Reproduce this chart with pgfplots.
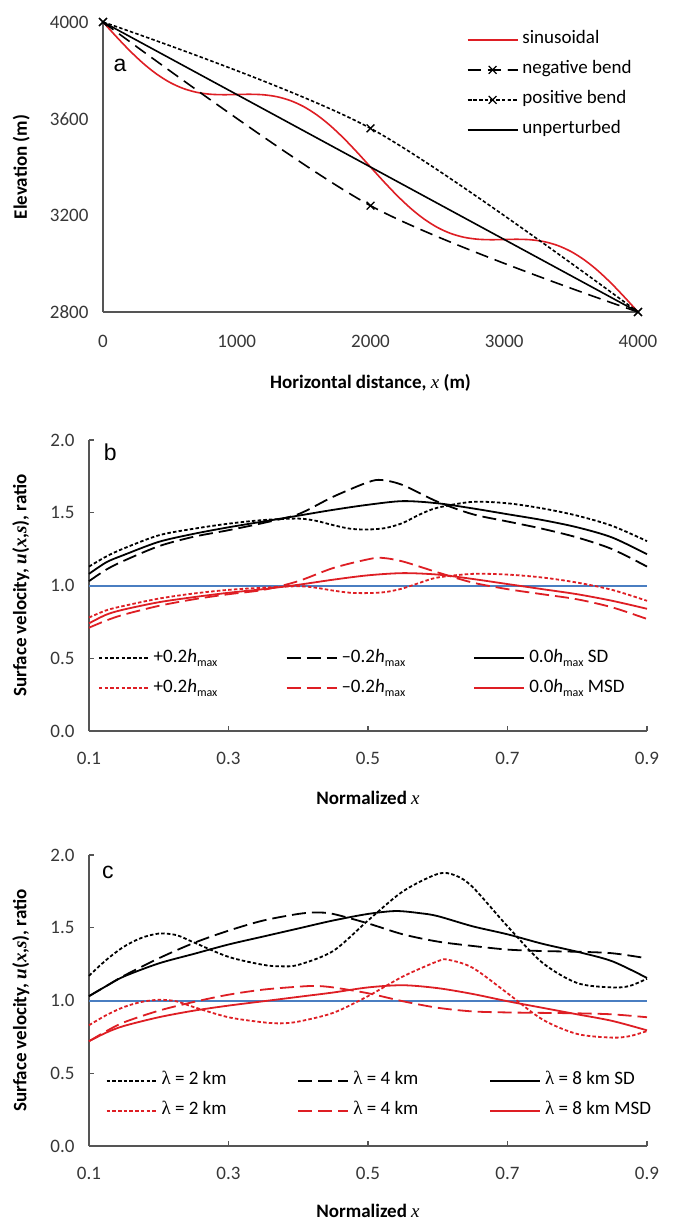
\documentclass[border=0pt]{standalone}
\usepackage{pgfplots}
\pgfplotsset{compat=1.18}
\usepackage{fontspec}
\setmainfont{Carlito}
\newfontfamily\tms{Liberation Serif}
\newfontfamily\arial{Liberation Sans}
\definecolor{myred}{RGB}{222,30,36}
\definecolor{myblue}{RGB}{74,126,193}
\definecolor{axgray}{RGB}{85,85,85}
\definecolor{tkgray}{RGB}{55,55,55}
\newcommand{\fs}{\fontsize{19}{23}\selectfont}
\newcommand{\hmax}{\textit{h}\raisebox{-4.5pt}{\fontsize{12}{13}\selectfont max}}
\newcommand{\lam}{{\tms λ}}
\pgfplotsset{
  common/.style={
    scale only axis, clip=false,
    axis x line*=bottom, axis y line*=left,
    axis line style={-, draw=axgray, line width=1.3pt},
    ticklabel style={font=\fs, text=tkgray},
    /pgf/number format/assume math mode=true,
    label style={font=\fs},
    legend style={draw=none, fill=none, inner sep=0pt, outer sep=0pt, font=\fs,
      nodes={text height=14pt, text depth=6pt, inner ysep=5pt, inner xsep=4pt}},
    legend cell align=left,
  },
  velo/.style={common,
    width=558pt, height=291pt,
    xmin=0.1, xmax=0.9, ymin=0, ymax=2,
    xtick={0.1,0.3,0.5,0.7,0.9}, ytick={0,0.5,1,1.5,2},
    /pgf/number format/fixed, /pgf/number format/fixed zerofill, /pgf/number format/precision=1,
    tick align=inside, major tick length=5pt, tick style={axgray, line width=1.3pt},
    xticklabel style={yshift=-18pt}, yticklabel style={xshift=-11pt},
    xlabel={\bfseries Normalized {\tms\mdseries\itshape x}},
    ylabel={\bfseries Surface velocity, {\tms\itshape u}({\tms\itshape x},{\tms\itshape s}), ratio},
    ylabel style={at={(axis description cs:-0.122,0.5)}, anchor=center},
    legend columns=3,
    legend image code/.code={\draw[##1] (0pt,0pt) -- (50pt,0pt);},
  },
  aleg/.style={legend image code/.code={\draw[mark repeat=2, mark phase=2, ##1] plot coordinates {(0pt,0pt) (25pt,0pt) (50pt,0pt)};}},
  kdot/.style={black, line width=1.8pt, dash pattern=on 3.5pt off 2.2pt, smooth},
  kdash/.style={black, line width=1.8pt, dash pattern=on 14pt off 6pt, smooth},
  ksol/.style={black, line width=1.8pt, smooth},
  rdot/.style={myred, line width=1.8pt, dash pattern=on 3.5pt off 2.2pt, smooth},
  rdash/.style={myred, line width=1.8pt, dash pattern=on 14pt off 6pt, smooth},
  rsol/.style={myred, line width=1.8pt, smooth},
}
\begin{document}
\begin{tikzpicture}
\useasboundingbox (0,0) rectangle (674pt,-1222pt);
% ---------------- panel a
\begin{axis}[common, aleg,
  at={(103pt,-312pt)}, anchor=south west,
  width=535pt, height=290pt,
  xmin=0, xmax=4000, ymin=2800, ymax=4000,
  xtick={0,1000,2000,3000,4000}, ytick={2800,3200,3600,4000},
  /pgf/number format/1000 sep={},
  major tick length=0pt,
  xticklabel style={yshift=-20pt}, yticklabel style={xshift=-11pt},
  xlabel={\bfseries Horizontal distance, {\tms\mdseries\itshape x} (m)},
  ylabel={\bfseries Elevation (m)},
  xlabel style={at={(axis description cs:0.5,-0.245)}, anchor=center},
  ylabel style={at={(axis description cs:-0.153,0.5)}, anchor=center},
  legend style={at={(axis description cs:0.68,0.99)}, anchor=north west},
]
\addplot[myred, line width=1.6pt, smooth] coordinates {
(0,4000)(100,3939.1)(200,3881.2)(300,3829.1)(400,3784.9)(500,3750)(600,3724.9)(700,3709.1)(800,3701.2)(900,3699.1)
(1000,3700)(1100,3700.9)(1200,3698.8)(1300,3690.9)(1400,3675.1)(1500,3650)(1600,3615.1)(1700,3570.9)(1800,3518.8)(1900,3460.9)
(2000,3400)(2100,3339.1)(2200,3281.2)(2300,3229.1)(2400,3184.9)(2500,3150)(2600,3124.9)(2700,3109.1)(2800,3101.2)(2900,3099.1)
(3000,3100)(3100,3100.9)(3200,3098.8)(3300,3090.9)(3400,3075.1)(3500,3050)(3600,3015.1)(3700,2970.9)(3800,2918.8)(3900,2860.9)(4000,2800)};
\addlegendentry{sinusoidal}
\addplot[black, line width=1.6pt, dash pattern=on 13pt off 7pt, smooth, mark=x, mark size=5.5pt, mark options={solid, line width=1.3pt}] coordinates {
(0,4000)(2000,3240)(4000,2800)};
\addlegendentry{negative bend}
\addplot[black, line width=1.6pt, dash pattern=on 3.5pt off 2.2pt, smooth, mark=x, mark size=5.5pt, mark options={solid, line width=1.3pt}] coordinates {
(0,4000)(2000,3560)(4000,2800)};
\addlegendentry{positive bend}
\addplot[black, line width=1.6pt] coordinates {(0,4000)(4000,2800)};
\addlegendentry{unperturbed}
\node[font={\arial\fontsize{23}{26}\selectfont}, anchor=center] at (axis description cs:0.032,0.85) {a};
\end{axis}
% ---------------- panel b
\begin{axis}[velo,
  at={(89pt,-731pt)}, anchor=south west,
  xlabel style={at={(axis description cs:0.5,-0.230)}, anchor=center},
  legend style={at={(axis description cs:0.016,0.3015)}, anchor=north west},
]
\addplot[myblue, line width=2pt, forget plot] coordinates {(0.1,1)(0.9,1)};
\addplot[kdot] coordinates {(0.1,1.13)(0.125,1.20)(0.15,1.255)(0.2,1.345)(0.25,1.39)(0.3,1.425)(0.35,1.45)(0.4,1.46)(0.425,1.445)(0.45,1.415)(0.475,1.39)(0.5,1.385)(0.525,1.395)(0.55,1.43)(0.575,1.49)(0.6,1.535)(0.65,1.575)(0.7,1.565)(0.75,1.53)(0.8,1.48)(0.85,1.41)(0.9,1.305)};
\addlegendentry{\makebox[128pt][l]{+0.2\hmax}}
\addplot[kdash] coordinates {(0.1,1.03)(0.125,1.11)(0.15,1.17)(0.2,1.27)(0.25,1.335)(0.3,1.38)(0.35,1.43)(0.4,1.49)(0.45,1.61)(0.5,1.71)(0.52,1.725)(0.55,1.69)(0.6,1.575)(0.65,1.49)(0.7,1.44)(0.75,1.39)(0.8,1.33)(0.85,1.25)(0.9,1.13)};
\addlegendentry{\makebox[128pt][l]{–0.2\hmax}}
\addplot[ksol] coordinates {(0.1,1.08)(0.125,1.16)(0.15,1.21)(0.2,1.30)(0.25,1.355)(0.3,1.40)(0.35,1.44)(0.4,1.48)(0.45,1.52)(0.5,1.555)(0.55,1.58)(0.6,1.565)(0.65,1.53)(0.7,1.49)(0.75,1.45)(0.8,1.40)(0.85,1.33)(0.9,1.215)};
\addlegendentry{0.0\hmax{} SD}
\addplot[rdot] coordinates {(0.1,0.78)(0.125,0.83)(0.15,0.86)(0.2,0.91)(0.25,0.945)(0.3,0.97)(0.35,0.985)(0.4,0.995)(0.425,0.985)(0.45,0.965)(0.475,0.95)(0.5,0.948)(0.525,0.955)(0.55,0.98)(0.575,1.02)(0.6,1.055)(0.65,1.08)(0.7,1.075)(0.75,1.055)(0.8,1.02)(0.85,0.97)(0.9,0.895)};
\addlegendentry{\makebox[128pt][l]{+0.2\hmax}}
\addplot[rdash] coordinates {(0.1,0.71)(0.125,0.76)(0.15,0.80)(0.2,0.86)(0.25,0.905)(0.3,0.94)(0.35,0.97)(0.4,1.03)(0.45,1.12)(0.5,1.18)(0.52,1.19)(0.55,1.165)(0.6,1.09)(0.65,1.02)(0.7,0.975)(0.75,0.94)(0.8,0.905)(0.85,0.85)(0.9,0.77)};
\addlegendentry{\makebox[128pt][l]{–0.2\hmax}}
\addplot[rsol] coordinates {(0.1,0.74)(0.125,0.80)(0.15,0.835)(0.2,0.885)(0.25,0.92)(0.3,0.95)(0.35,0.975)(0.4,1.005)(0.45,1.04)(0.5,1.07)(0.55,1.085)(0.6,1.075)(0.65,1.045)(0.7,1.01)(0.75,0.975)(0.8,0.94)(0.85,0.895)(0.9,0.84)};
\addlegendentry{0.0\hmax{} MSD}
\node[font={\arial\fontsize{23}{26}\selectfont}, anchor=center] at (axis description cs:0.038,0.959) {b};
\end{axis}
% ---------------- panel c
\begin{axis}[velo,
  at={(89pt,-1146pt)}, anchor=south west,
  xlabel style={at={(axis description cs:0.5,-0.222)}, anchor=center},
  legend style={at={(axis description cs:0.03,0.275)}, anchor=north west},
]
\addplot[myblue, line width=2pt, forget plot] coordinates {(0.1,1)(0.9,1)};
\addplot[kdot] coordinates {(0.1,1.17)(0.125,1.28)(0.15,1.37)(0.175,1.43)(0.2,1.46)(0.225,1.45)(0.25,1.40)(0.3,1.30)(0.35,1.245)(0.375,1.235)(0.4,1.245)(0.45,1.34)(0.5,1.55)(0.55,1.75)(0.6,1.87)(0.625,1.86)(0.65,1.78)(0.7,1.51)(0.75,1.26)(0.8,1.12)(0.85,1.09)(0.875,1.10)(0.9,1.15)};
\addlegendentry{\makebox[132pt][l]{\lam{} = 2 km}}
\addplot[kdash] coordinates {(0.1,1.03)(0.125,1.10)(0.15,1.17)(0.2,1.29)(0.25,1.395)(0.3,1.48)(0.35,1.55)(0.4,1.595)(0.425,1.605)(0.45,1.595)(0.5,1.53)(0.55,1.455)(0.6,1.405)(0.65,1.375)(0.7,1.35)(0.75,1.34)(0.8,1.335)(0.85,1.325)(0.9,1.29)};
\addlegendentry{\makebox[132pt][l]{\lam{} = 4 km}}
\addplot[ksol] coordinates {(0.1,1.03)(0.125,1.10)(0.15,1.165)(0.2,1.255)(0.25,1.32)(0.3,1.385)(0.35,1.44)(0.4,1.495)(0.45,1.55)(0.5,1.595)(0.54,1.615)(0.575,1.60)(0.6,1.58)(0.65,1.51)(0.7,1.455)(0.75,1.39)(0.8,1.335)(0.85,1.27)(0.9,1.155)};
\addlegendentry{\lam{} = 8 km SD}
\addplot[rdot] coordinates {(0.1,0.83)(0.125,0.90)(0.15,0.955)(0.175,0.99)(0.2,1.005)(0.225,0.995)(0.25,0.955)(0.3,0.885)(0.35,0.85)(0.375,0.843)(0.4,0.855)(0.45,0.915)(0.5,1.03)(0.55,1.165)(0.6,1.27)(0.615,1.28)(0.65,1.225)(0.7,1.05)(0.75,0.87)(0.8,0.77)(0.85,0.745)(0.875,0.755)(0.9,0.79)};
\addlegendentry{\makebox[132pt][l]{\lam{} = 2 km}}
\addplot[rdash] coordinates {(0.1,0.72)(0.125,0.79)(0.15,0.85)(0.2,0.93)(0.25,0.99)(0.3,1.04)(0.35,1.075)(0.4,1.095)(0.425,1.10)(0.45,1.09)(0.5,1.05)(0.55,0.995)(0.6,0.95)(0.65,0.925)(0.7,0.918)(0.75,0.915)(0.8,0.912)(0.85,0.905)(0.9,0.885)};
\addlegendentry{\makebox[132pt][l]{\lam{} = 4 km}}
\addplot[rsol] coordinates {(0.1,0.72)(0.125,0.78)(0.15,0.825)(0.2,0.885)(0.25,0.93)(0.3,0.965)(0.35,0.995)(0.4,1.025)(0.45,1.055)(0.5,1.09)(0.55,1.105)(0.6,1.085)(0.65,1.045)(0.7,0.995)(0.75,0.95)(0.8,0.905)(0.85,0.86)(0.9,0.795)};
\addlegendentry{\lam{} = 8 km MSD}
\node[font={\arial\fontsize{23}{26}\selectfont}, anchor=center] at (axis description cs:0.034,0.94) {c};
\end{axis}
\end{tikzpicture}
\end{document}
